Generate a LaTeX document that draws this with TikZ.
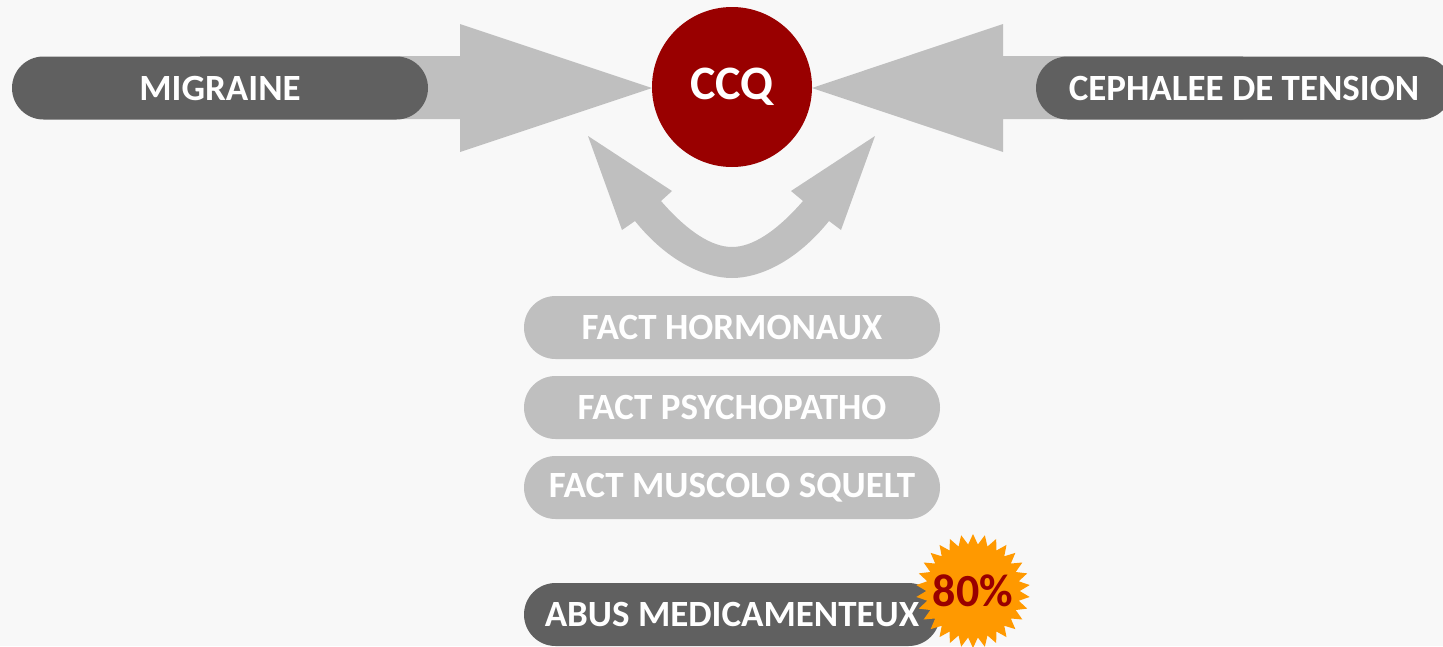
\documentclass[tikz,border=0pt]{standalone}
\usepackage{fontspec}
\setmainfont{Carlito}
\usetikzlibrary{shapes.misc,shapes.geometric}
\definecolor{bgc}{HTML}{F8F8F8}
\definecolor{arrowgray}{HTML}{BFBFBF}
\definecolor{darkpill}{HTML}{606060}
\definecolor{ccqred}{HTML}{990000}
\definecolor{starorange}{HTML}{FF9900}
\tikzset{
  pill/.style={rounded rectangle, minimum width=416pt, minimum height=63pt, inner sep=0pt,
    text=white, font=\bfseries\fontsize{37}{40}\selectfont},
  darkbox/.style={pill, fill=darkpill},
  lightbox/.style={pill, fill=arrowgray},
  bigarrow/.style={fill=arrowgray},
}
\begin{document}
\begin{tikzpicture}[x=1pt,y=-1pt]
\fill[bgc] (0,0) rectangle (1443,646);
\useasboundingbox (0,0) rectangle (1443,646);
% big arrows
\fill[bigarrow] (200,56) -- (460,56) -- (460,24) -- (652,88) -- (460,152) -- (460,119) -- (200,119) -- cycle;
\fill[bigarrow] (1243,56) -- (1003,56) -- (1003,24) -- (812,88) -- (1003,152) -- (1003,119) -- (1243,119) -- cycle;
% curved double arrow
\fill[bigarrow] (635,221) .. controls (668,262) and (705,278) .. (732,278)
  .. controls (759,278) and (796,262) .. (829,221)
  -- (841,230) -- (875,136) -- (791,191) -- (803,201)
  .. controls (776,232) and (752,247) .. (732,247)
  .. controls (712,247) and (688,232) .. (661,201)
  -- (672,191) -- (588,136) -- (622,230) -- cycle;
% nodes
\node[darkbox] (mig) at (220,88) {MIGRAINE};
\node[darkbox] (ceph) at (1244,88) {CEPHALEE DE TENSION};
\node[circle, fill=ccqred, minimum size=160pt, inner sep=0pt, text=white,
  font=\bfseries\fontsize{48}{52}\selectfont] (ccq) at (732,87) {CCQ};
\node[lightbox] (horm) at (732,327.5) {FACT HORMONAUX};
\node[lightbox] (psy) at (732,407.5) {FACT PSYCHOPATHO};
\node[lightbox] (musc) at (732,487.5) {FACT MUSCOLO SQUELT};
\node[darkbox] (abus) at (732,614.5) {ABUS MEDICAMENTEUX};
\node[star, star points=30, star point ratio=1.22, fill=starorange, minimum size=114pt, inner sep=0pt] (burst) at (973,591) {};
\node[text=ccqred, font=\bfseries\fontsize{46}{50}\selectfont, inner sep=0pt] (pct) at (burst.center) {80\%};
\end{tikzpicture}
\end{document}
